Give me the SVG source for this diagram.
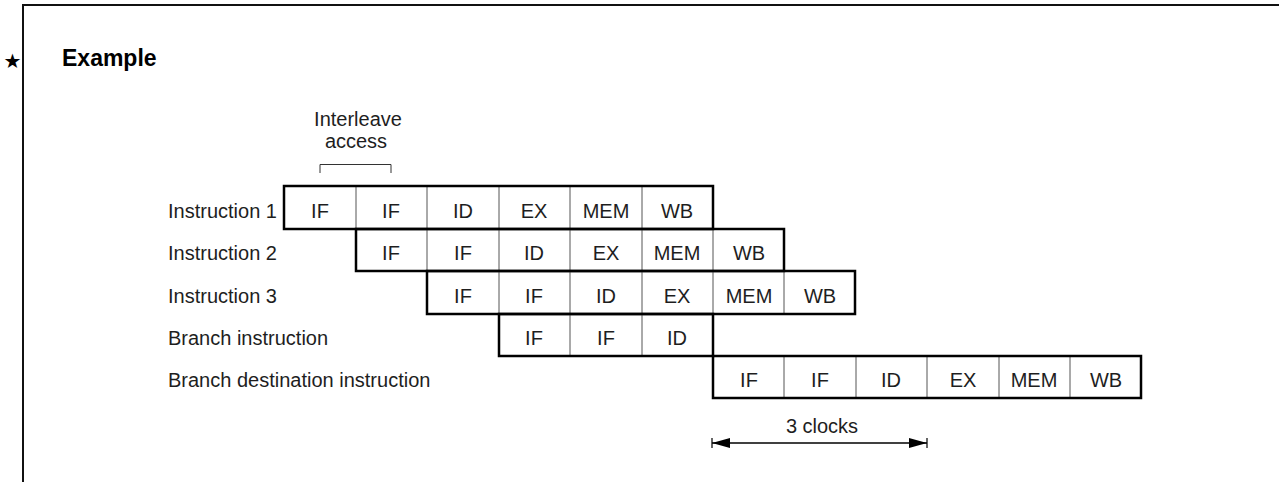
<svg xmlns="http://www.w3.org/2000/svg" width="1279" height="482" viewBox="0 0 1279 482">
<style>
text{font-family:"Liberation Sans",Arial,sans-serif;font-size:20px;fill:#1e1e1e}
.c{text-anchor:middle}
.out{fill:none;stroke:#000;stroke-width:2.5}
.div{stroke:#555;stroke-width:1}
</style>
<defs>
<marker id="ah" viewBox="0 0 18 10" refX="18" refY="5" markerWidth="18" markerHeight="10" markerUnits="userSpaceOnUse" orient="auto-start-reverse"><path d="M0,0 L18,5 L0,10 Z" fill="#000"/></marker>
</defs>
<rect width="1279" height="482" fill="#fff"/>
<path d="M23,482 V5 H1279" fill="none" stroke="#111" stroke-width="2"/>
<text x="12.5" y="68" class="c" style="font-family:'DejaVu Sans',sans-serif;font-size:20px;fill:#000">★</text>
<text x="62" y="66" style="font-size:23px;font-weight:bold;fill:#000">Example</text>
<g id="interleave">
<text class="c" x="358" y="125.5">Interleave</text>
<text class="c" x="356" y="148">access</text>
<path d="M320,173 V164.5 H391 V173" fill="none" stroke="#333" stroke-width="1"/>
</g>
<g id="row1">
<text x="168" y="218">Instruction 1</text>
<path class="div" d="M356,186V229M427,186V229M499,186V229M570,186V229M642,186V229"/>
<rect class="out" x="284" y="186" width="429" height="43"/>
<text class="c" x="320" y="218">IF</text><text class="c" x="391" y="218">IF</text><text class="c" x="463" y="218">ID</text><text class="c" x="534" y="218">EX</text><text class="c" x="606" y="218">MEM</text><text class="c" x="677" y="218">WB</text>
</g>
<g id="row2">
<text x="168" y="260">Instruction 2</text>
<path class="div" d="M427,229V271M499,229V271M570,229V271M642,229V271M713,229V271"/>
<rect class="out" x="356" y="229" width="428" height="42"/>
<text class="c" x="391" y="260">IF</text><text class="c" x="463" y="260">IF</text><text class="c" x="534" y="260">ID</text><text class="c" x="606" y="260">EX</text><text class="c" x="677" y="260">MEM</text><text class="c" x="749" y="260">WB</text>
</g>
<g id="row3">
<text x="168" y="302.5">Instruction 3</text>
<path class="div" d="M499,271V314M570,271V314M642,271V314M713,271V314M784,271V314"/>
<rect class="out" x="427" y="271" width="428" height="43"/>
<text class="c" x="463" y="302.5">IF</text><text class="c" x="534" y="302.5">IF</text><text class="c" x="606" y="302.5">ID</text><text class="c" x="677" y="302.5">EX</text><text class="c" x="749" y="302.5">MEM</text><text class="c" x="820" y="302.5">WB</text>
</g>
<g id="row4">
<text x="168" y="345">Branch instruction</text>
<path class="div" d="M570,314V356M642,314V356"/>
<rect class="out" x="499" y="314" width="214" height="42"/>
<text class="c" x="534" y="345">IF</text><text class="c" x="606" y="345">IF</text><text class="c" x="677" y="345">ID</text>
</g>
<g id="row5">
<text x="168" y="387">Branch destination instruction</text>
<path class="div" d="M784,356V398M856,356V398M927,356V398M999,356V398M1070,356V398"/>
<rect class="out" x="713" y="356" width="428" height="42"/>
<text class="c" x="749" y="387">IF</text><text class="c" x="820" y="387">IF</text><text class="c" x="891" y="387">ID</text><text class="c" x="963" y="387">EX</text><text class="c" x="1034" y="387">MEM</text><text class="c" x="1106" y="387">WB</text>
</g>
<g id="connectors">
<line x1="712" y1="443" x2="927" y2="443" stroke="#000" stroke-width="1.5" marker-start="url(#ah)" marker-end="url(#ah)"/>
<path d="M712,438V448M927,438V448" stroke="#000" stroke-width="1.2"/>
<text class="c" x="822" y="433">3 clocks</text>
</g>
</svg>
